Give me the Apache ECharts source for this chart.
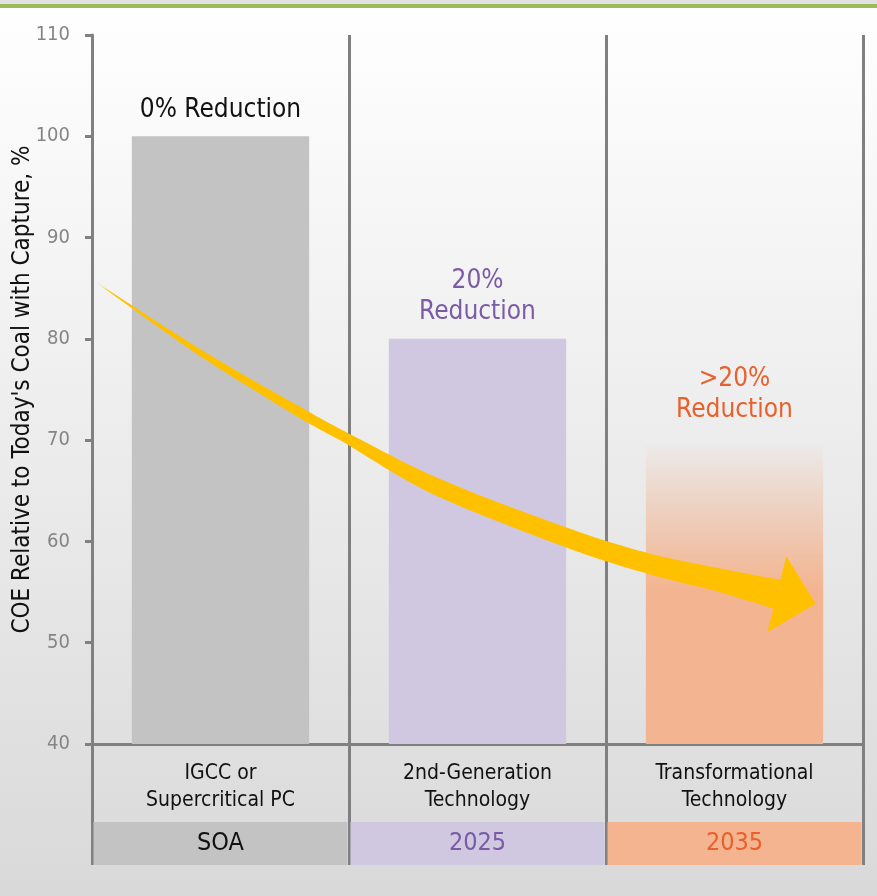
<!DOCTYPE html>
<html>
<head>
<meta charset="utf-8">
<script src="https://cdn.jsdelivr.net/npm/echarts@6/dist/echarts.min.js"></script>
<style>
  html, body { margin: 0; padding: 0; }
  #chart { width: 877px; height: 896px; }
</style>
</head>
<body>
<div id="chart"></div>
<script>
// Technology stages and their cost of electricity (COE), % of today's coal with capture
const categories = ['IGCC or\nSupercritical PC', '2nd-Generation\nTechnology', 'Transformational\nTechnology'];
const stageLabels = ['SOA', '2025', '2035'];
const coeValues = [100, 80, 69.5];
const reductionLabels = ['0% Reduction', '20%\nReduction', '>20%\nReduction'];
const yTicks = { min: 40, max: 110, step: 10 };

// Centre line of the downward trend arrow, in (stage position 0..3, COE %) units
const trendPath = [
  [0.023, 85.46], [0.420, 78.66], [0.809, 72.74], [0.992, 70.18], [1.346, 65.35],
  [1.848, 60.37], [2.160, 57.85], [2.444, 56.17], [2.665, 54.79]
];

const FONT = "'Liberation Sans Narrow', 'Arial Narrow', 'DejaVu Sans Condensed', sans-serif";
const AXIS_GREY = '#808080';
const barColors = [
  '#c3c3c3',
  '#d0c8e0',
  { type: 'linear', x: 0, y: 0, x2: 0, y2: 1, colorStops: [
    { offset: 0, color: 'rgba(243,181,145,0.04)' },
    { offset: 0.48, color: '#f3b591' },
    { offset: 1, color: '#f3b591' }
  ] }
];
const labelColors = ['#111111', '#7a5ba6', '#e8612c'];
const labelDistances = [11, 11, 19];
const stageBoxColors = ['#c3c3c3', '#d0c8e0', '#f4b490'];

// Shaft widths (px) along the trend arrow's centre line
const shaftWidths = [0, 6, 10, 10, 17, 19, 20, 23, 30];
const HEAD_HALF = 39, HEAD_LEN = 40;

function catmull(p0, p1, p2, p3, t) {
  const t2 = t * t, t3 = t2 * t;
  return 0.5 * ((2 * p1) + (-p0 + p2) * t + (2 * p0 - 5 * p1 + 4 * p2 - p3) * t2 + (-p0 + 3 * p1 - 3 * p2 + p3) * t3);
}

function renderArrow(params, api) {
  const pts = trendPath.map(p => api.coord(p));
  const n = pts.length;
  const dense = [];
  const widths = [];
  const SUB = 12;
  for (let i = 0; i < n - 1; i++) {
    const p0 = pts[Math.max(i - 1, 0)], p1 = pts[i], p2 = pts[i + 1], p3 = pts[Math.min(i + 2, n - 1)];
    for (let k = 0; k < SUB; k++) {
      const t = k / SUB;
      dense.push([catmull(p0[0], p1[0], p2[0], p3[0], t), catmull(p0[1], p1[1], p2[1], p3[1], t)]);
      widths.push(shaftWidths[i] + (shaftWidths[i + 1] - shaftWidths[i]) * t);
    }
  }
  dense.push(pts[n - 1]);
  widths.push(shaftWidths[n - 1]);

  const upper = [], lower = [];
  for (let i = 0; i < dense.length; i++) {
    const a = dense[Math.max(i - 1, 0)], b = dense[Math.min(i + 1, dense.length - 1)];
    let dx = b[0] - a[0], dy = b[1] - a[1];
    const len = Math.hypot(dx, dy) || 1;
    dx /= len; dy /= len;
    const nx = -dy, ny = dx, h = widths[i] / 2;
    upper.push([dense[i][0] - nx * h, dense[i][1] - ny * h]);
    lower.push([dense[i][0] + nx * h, dense[i][1] + ny * h]);
  }
  // Arrow head from the final shaft direction
  const end = dense[dense.length - 1], prev = dense[dense.length - 4];
  let dx = end[0] - prev[0], dy = end[1] - prev[1];
  const len = Math.hypot(dx, dy) || 1;
  dx /= len; dy /= len;
  const nx = -dy, ny = dx;
  const headTop = [end[0] - nx * HEAD_HALF, end[1] - ny * HEAD_HALF];
  const headBottom = [end[0] + nx * HEAD_HALF, end[1] + ny * HEAD_HALF];
  const tip = [end[0] + dx * HEAD_LEN, end[1] + dy * HEAD_LEN];

  const poly = upper.concat([headTop, tip, headBottom], lower.reverse());
  return {
    type: 'polygon',
    shape: { points: poly },
    style: { fill: '#ffc000' },
    silent: true
  };
}

const chart = echarts.init(document.getElementById('chart'));
chart.setOption({
  animation: false,
  backgroundColor: { type: 'linear', x: 0, y: 0, x2: 0, y2: 1, colorStops: [
    { offset: 0, color: '#ffffff' }, { offset: 1, color: '#d9d9d9' }
  ] },
  textStyle: { fontFamily: FONT },
  graphic: [
    { type: 'rect', left: 0, top: 0, shape: { width: 877, height: 4 }, style: { fill: '#e2e2e2' }, silent: true },
    { type: 'rect', left: 0, top: 4, shape: { width: 877, height: 4 }, style: { fill: '#9bbb59' }, silent: true }
  ],
  grid: { left: 92, right: 14, top: 35, bottom: 152, containLabel: false, outerBoundsMode: 'none' },
  xAxis: [
    {
      type: 'category',
      data: categories,
      axisLine: { lineStyle: { color: AXIS_GREY, width: 3 } },
      axisTick: { show: true, length: 121, lineStyle: { color: AXIS_GREY, width: 3 } },
      splitLine: { show: true, lineStyle: { color: AXIS_GREY, width: 3 } },
      axisLabel: { color: '#111111', fontSize: 21, lineHeight: 27, margin: 16, fontFamily: FONT }
    },
    {
      type: 'category',
      data: stageLabels,
      position: 'bottom',
      offset: 78,
      axisLine: { show: false },
      axisTick: { show: false },
      axisLabel: {
        margin: 0,
        interval: 0,
        formatter: (v, i) => '{s' + i + '|' + v + '}',
        rich: stageLabels.reduce((acc, _, i) => {
          acc['s' + i] = {
            width: 254, height: 43, lineHeight: 43, align: 'center', verticalAlign: 'middle',
            backgroundColor: stageBoxColors[i], color: labelColors[i], fontSize: 25, fontFamily: FONT
          };
          return acc;
        }, {})
      }
    },
    { type: 'value', min: 0, max: 3, show: false }
  ],
  yAxis: {
    type: 'value',
    min: yTicks.min,
    max: yTicks.max,
    interval: yTicks.step,
    name: "COE Relative to Today's Coal with Capture, %",
    nameLocation: 'middle',
    nameGap: 57,
    nameRotate: 90,
    nameMoveOverlap: false,
    nameTextStyle: { color: '#111111', fontSize: 24, fontFamily: FONT },
    axisLine: { show: true, lineStyle: { color: AXIS_GREY, width: 3 } },
    axisTick: { show: true, length: 7, lineStyle: { color: AXIS_GREY, width: 3 } },
    splitLine: { show: false },
    axisLabel: { color: '#858585', fontSize: 20, margin: 22, fontFamily: FONT }
  },
  series: [
    {
      type: 'bar',
      xAxisIndex: 0,
      barWidth: '69%',
      data: coeValues.map((v, i) => ({
        value: v,
        itemStyle: { color: barColors[i] },
        label: {
          show: true, position: 'top', distance: labelDistances[i],
          formatter: reductionLabels[i], color: labelColors[i],
          fontSize: 26, lineHeight: 31, fontFamily: FONT
        }
      }))
    },
    {
      type: 'custom',
      xAxisIndex: 2,
      yAxisIndex: 0,
      z: 5,
      silent: true,
      data: [[0, 0]],
      renderItem: renderArrow
    }
  ]
});
</script>
</body>
</html>
